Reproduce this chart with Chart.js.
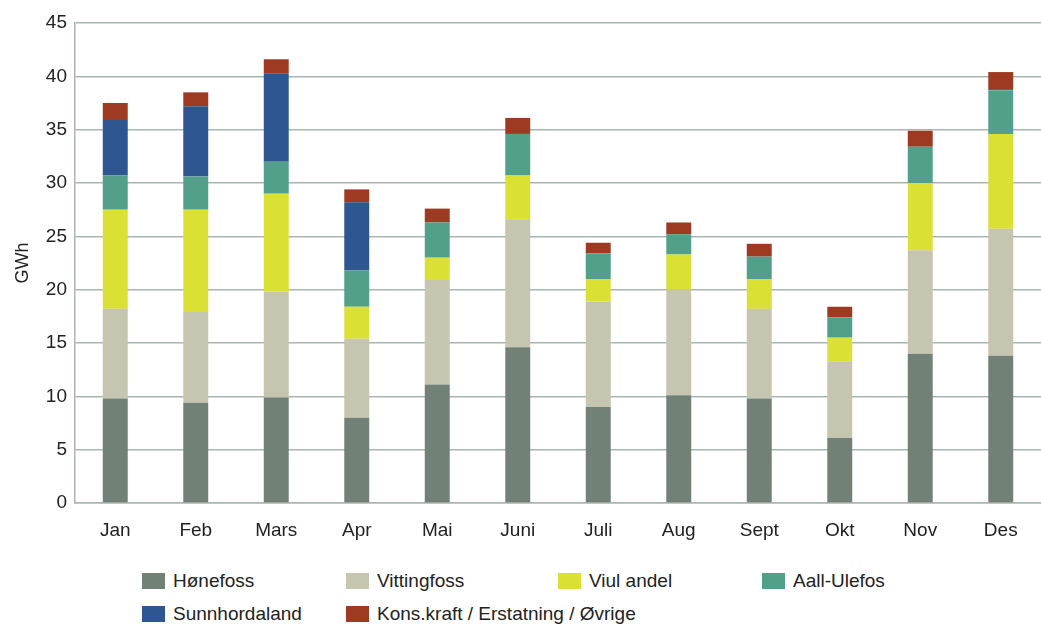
<!DOCTYPE html>
<html>
<head>
<meta charset="utf-8">
<script src="https://cdn.jsdelivr.net/npm/chart.js@4"></script>
<style>
    body { margin: 0; background: #fff; font-family: 'Liberation Sans', Arial, sans-serif; }
    #wrap { position: relative; width: 1041px; height: 545px; }
    #legend {
        display: grid;
        grid-template-columns: 204px 212px 204px 200px;
        margin-left: 142px;
        margin-top: 25px;
        row-gap: 11px;
        font-size: 19px;
        line-height: 22px;
        color: #222;
    }
    .item { display: flex; align-items: center; white-space: nowrap; }
    .swatch { width: 23px; height: 16px; margin-right: 8px; flex: none; }
</style>
</head>
<body>
<div id="wrap"><canvas id="chart"></canvas></div>
<div id="legend"></div>
<script>
const months = ['Jan', 'Feb', 'Mars', 'Apr', 'Mai', 'Juni', 'Juli', 'Aug', 'Sept', 'Okt', 'Nov', 'Des'];

const honefoss     = [9.8, 9.4, 9.9, 8.0, 11.1, 14.6, 9.0, 10.1, 9.8, 6.1, 14.0, 13.8];
const vittingfoss  = [8.4, 8.5, 9.9, 7.4, 9.8, 12.0, 9.9, 9.9, 8.4, 7.2, 9.7, 11.9];
const viulAndel    = [9.3, 9.6, 9.2, 3.0, 2.1, 4.1, 2.1, 3.3, 2.8, 2.2, 6.3, 8.9];
const aallUlefos   = [3.2, 3.1, 3.0, 3.4, 3.3, 3.9, 2.4, 1.9, 2.1, 1.9, 3.4, 4.1];
const sunnhordland = [5.2, 6.6, 8.3, 6.4, 0, 0, 0, 0, 0, 0, 0, 0.1];
const konsKraft    = [1.6, 1.3, 1.3, 1.2, 1.3, 1.5, 1.0, 1.1, 1.2, 1.0, 1.5, 1.6];

const seriesNames = ['Hønefoss', 'Vittingfoss', 'Viul andel', 'Aall-Ulefos', 'Sunnhordaland', 'Kons.kraft / Erstatning / Øvrige'];
const seriesColors = ['#718176', '#c6c5b0', '#dbe035', '#52a08a', '#2e5690', '#9f3a22'];
const seriesData = [honefoss, vittingfoss, viulAndel, aallUlefos, sunnhordland, konsKraft];

const yTicks = [0, 5, 10, 15, 20, 25, 30, 35, 40, 45];

const gridColor = '#a9b5b1';
const tickFont = { family: "'Liberation Sans', Arial, sans-serif", size: 19 };

let chart;

function buildDatasets() {
    return seriesNames.map((name, i) => ({
        label: name,
        data: seriesData[i],
        backgroundColor: seriesColors[i],
        borderWidth: 0,
        barPercentage: 0.62,
        categoryPercentage: 0.5
    }));
}

function buildLegend() {
    const legend = document.getElementById('legend');
    legend.innerHTML = '';
    chart.data.datasets.forEach(ds => {
        const div = document.createElement('div');
        div.className = 'item';
        div.innerHTML = `<span class="swatch" style="background:${ds.backgroundColor}"></span><span>${ds.label}</span>`;
        legend.appendChild(div);
    });
}

function initChart() {
    const ctx = document.getElementById('chart').getContext('2d');
    chart = new Chart(ctx, {
        type: 'bar',
        data: {
            labels: months,
            datasets: buildDatasets()
        },
        options: {
            responsive: true,
            maintainAspectRatio: false,
            animation: false,
            layout: { padding: { top: 23, right: 0, left: 0, bottom: 0 } },
            plugins: {
                legend: { display: false },
                tooltip: { enabled: false }
            },
            scales: {
                x: {
                    stacked: true,
                    grid: { display: false, drawTicks: false },
                    border: { color: gridColor, width: 1.5 },
                    ticks: { color: '#222', font: tickFont, padding: 16 },
                    afterFit: scale => { scale.height = 42; }
                },
                y: {
                    stacked: true,
                    min: 0,
                    max: 45,
                    afterBuildTicks: scale => { scale.ticks = yTicks.map(v => ({ value: v })); },
                    grid: { color: gridColor, lineWidth: 1.5, drawTicks: false },
                    border: { color: gridColor, width: 1.5 },
                    ticks: { color: '#222', font: tickFont, padding: 8 },
                    title: {
                        display: true,
                        text: 'GWh',
                        color: '#222',
                        font: { family: "'Liberation Sans', Arial, sans-serif", size: 18 },
                        padding: { top: 12, bottom: 0 }
                    },
                    afterFit: scale => { scale.width = 75; }
                }
            }
        }
    });
    buildLegend();
}

document.addEventListener('DOMContentLoaded', initChart);
</script>
</body>
</html>
